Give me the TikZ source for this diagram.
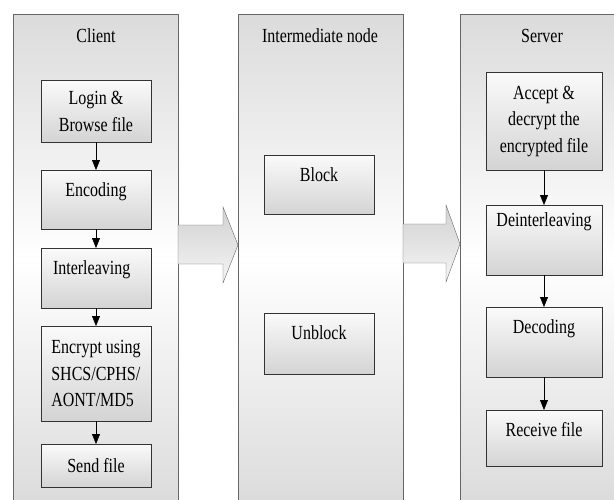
\documentclass[tikz,border=0pt]{standalone}
\usepackage{fontspec}
\setmainfont{Liberation Serif}[FakeStretch=0.8]
\usetikzlibrary{arrows.meta}

\tikzset{
    panel/.style={draw=black!60, top color=black!14, bottom color=black!14, middle color=white},
    stage/.style={draw=black!80, top color=black!2, bottom color=black!17, minimum width=110pt,
        inner sep=0pt, align=center, anchor=north},
    toptext/.style={text height=26.5pt, text depth=#1},
    flushleft/.style={text width=#1, align=left},
    flow/.style={-{Triangle[length=10pt, width=8pt]}, black},
    bigarrow/.style={draw=black!60, top color=black!18, bottom color=black!4},
}

\begin{document}
\begin{tikzpicture}[x=1pt, y=-1pt, font=\fontsize{20}{26.5}\selectfont]
    \useasboundingbox (0, 0) rectangle (614, 499);
    \clip (0, 0) rectangle (614, 499);

    % the three columns
    \shade[panel] (13, 14) rectangle (178, 505);
    \shade[panel] (238, 14) rectangle (403, 505);
    \shade[panel] (460, 14) rectangle (640, 505);

    \shade[bigarrow] (178, 225) -- (223, 225) -- (223, 207) -- (238, 245)
        -- (223, 283) -- (223, 264) -- (178, 264) -- cycle;
    \shade[bigarrow] (403, 224) -- (446, 224) -- (446, 205) -- (460, 244)
        -- (446, 282) -- (446, 263) -- (403, 263) -- cycle;

    \node (clienttitle) at (96, 36) {Client};
    \node (intertitle) at (320, 36) {Intermediate node};
    \node (servertitle) at (542, 36) {Server};

    % client side
    \node[stage, minimum height=62pt] (login) at (96, 80) {Login \&\\Browse file};
    \node[stage, toptext=32.5pt] (encoding) at (96, 170) {Encoding};
    \node[stage, flushleft=86pt, toptext=33.5pt] (interleave) at (96, 248) {Interleaving};
    \node[stage, align=left, minimum height=95pt] (encrypt) at (96, 326) {Encrypt using\\SHCS/CPHS/\\AONT/MD5};
    \node[stage, minimum height=43pt] (send) at (96, 444) {Send file};

    \draw[flow] (login) -- (encoding);
    \draw[flow] (encoding) -- (interleave);
    \draw[flow] (interleave) -- (encrypt);
    \draw[flow] (encrypt) -- (send);

    % intermediate node
    \node[stage, toptext=32.5pt] (block) at (319, 155) {Block};
    \node[stage, toptext=34.5pt] (unblock) at (319, 313) {Unblock};

    % server side
    \node[stage, minimum width=116pt, minimum height=98pt] (accept) at (544, 72)
        {Accept \&\\decrypt the\\encrypted file};
    \node[stage, minimum width=116pt, text height=21pt, text depth=49pt] (deinterleave) at (544, 205) {Deinterleaving};
    \node[stage, minimum width=116pt, toptext=43pt] (decoding) at (544, 307) {Decoding};
    \node[stage, minimum width=116pt, toptext=29.5pt] (receive) at (544, 410) {Receive file};

    \draw[flow] (accept) -- (deinterleave);
    \draw[flow] (deinterleave) -- (decoding);
    \draw[flow] (decoding) -- (receive);
\end{tikzpicture}
\end{document}
